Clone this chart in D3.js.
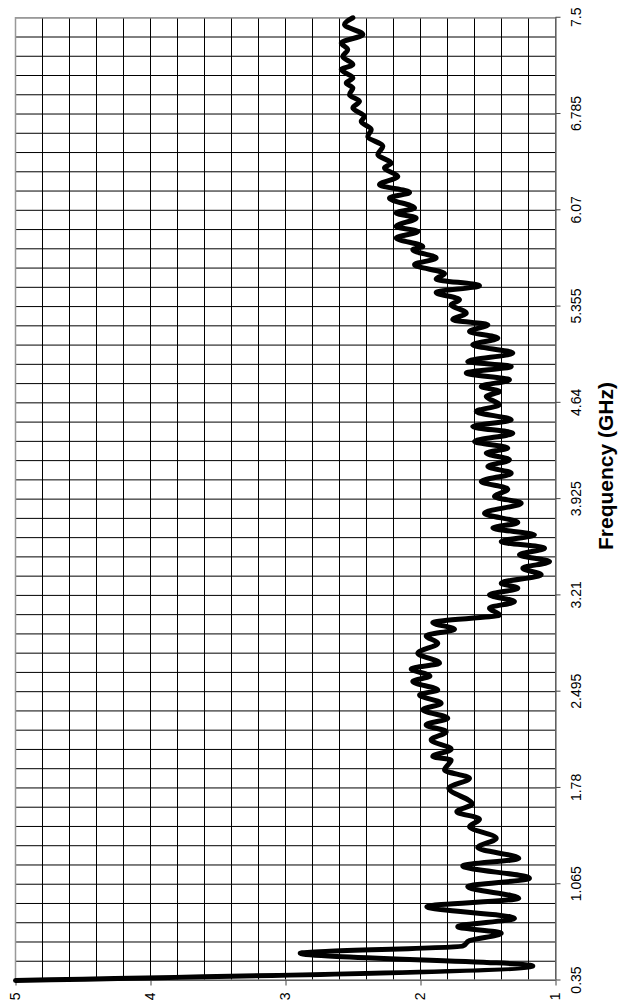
<!DOCTYPE html>
<html>
<head>
<meta charset="utf-8">
<script src="https://cdn.jsdelivr.net/npm/d3@7"></script>
<style>
body { margin: 0; background: #fff; }
svg { display: block; font-family: Arial, "Liberation Sans", sans-serif; }
.domain { stroke: #808080; stroke-width: 1.5; }
.tick line { stroke: #444; }
.tick text { fill: #000; font-size: 14px; }
</style>
</head>
<body>
<div id="chart"></div>
<script>
var freqTicks = [0.35, 1.065, 1.78, 2.495, 3.21, 3.925, 4.64, 5.355, 6.07, 6.785, 7.5];
var freqTickLabels = ["0.35", "1.065", "1.78", "2.495", "3.21", "3.925", "4.64", "5.355", "6.07", "6.785", "7.5"];
var vswrTicks = [1, 2, 3, 4, 5];

// frequency (GHz) and VSWR, turning points mostly
var freq = [0.35, 0.458, 0.552, 0.606, 0.646, 0.701, 0.75, 0.812, 0.898, 0.961,
    1.047, 1.109, 1.201, 1.258, 1.337, 1.406, 1.493, 1.548, 1.604, 1.661,
    1.778, 1.852, 1.914, 1.988, 2.013, 2.068, 2.137, 2.198, 2.248, 2.298,
    2.36, 2.409, 2.471, 2.508, 2.57, 2.611, 2.664, 2.707, 2.781, 2.855,
    2.909, 2.959, 3.008, 3.065, 3.115, 3.164, 3.214, 3.264, 3.301, 3.363,
    3.412, 3.461, 3.511, 3.561, 3.61, 3.66, 3.71, 3.751, 3.821, 3.895,
    3.944, 3.999, 4.056, 4.118, 4.167, 4.217, 4.267, 4.304, 4.353, 4.415,
    4.464, 4.514, 4.576, 4.626, 4.687, 4.725, 4.762, 4.811, 4.861, 4.91,
    4.947, 5.01, 5.071, 5.121, 5.17, 5.22, 5.257, 5.307, 5.369, 5.406,
    5.46, 5.51, 5.56, 5.599, 5.666, 5.716, 5.777, 5.802, 5.864, 5.913,
    5.95, 6.013, 6.05, 6.087, 6.161, 6.203, 6.26, 6.322, 6.384, 6.421,
    6.483, 6.545, 6.619, 6.669, 6.73, 6.767, 6.83, 6.879, 6.929, 6.978,
    7.016, 7.053, 7.115, 7.152, 7.213, 7.263, 7.313, 7.375, 7.449, 7.5];
var vswr = [5.0, 1.168, 2.891, 1.687, 1.637, 1.402, 1.724, 1.304, 1.953, 1.272,
    1.65, 1.193, 1.687, 1.272, 1.576, 1.439, 1.637, 1.563, 1.731, 1.617,
    1.79, 1.637, 1.822, 1.773, 1.909, 1.773, 1.921, 1.81, 1.958, 1.798,
    1.983, 1.847, 2.007, 1.872, 2.057, 1.93, 2.069, 1.859, 2.02, 1.872,
    1.958, 1.748, 1.909, 1.415, 1.489, 1.304, 1.489, 1.279, 1.402, 1.106,
    1.242, 1.044, 1.267, 1.081, 1.402, 1.156, 1.464, 1.279, 1.526, 1.254,
    1.452, 1.353, 1.55, 1.328, 1.501, 1.341, 1.513, 1.353, 1.6, 1.316,
    1.613, 1.328, 1.587, 1.415, 1.513, 1.415, 1.55, 1.341, 1.661, 1.328,
    1.65, 1.316, 1.613, 1.427, 1.637, 1.501, 1.761, 1.661, 1.773, 1.711,
    1.884, 1.563, 1.884, 1.822, 2.044, 1.884, 2.057, 1.983, 2.18, 2.02,
    2.18, 2.032, 2.18, 2.044, 2.23, 2.081, 2.304, 2.168, 2.267, 2.217,
    2.316, 2.279, 2.39, 2.365, 2.439, 2.415, 2.501, 2.452, 2.526, 2.501,
    2.55, 2.501, 2.587, 2.501, 2.576, 2.539, 2.587, 2.427, 2.563, 2.501];

var width = 621, height = 1007,
    plotLeft = 15.5, plotTop = 17.75, plotRight = 555.5, plotBottom = 980.5,
    plotH = plotBottom - plotTop,   // frequency run, up the page
    plotW = plotRight - plotLeft;   // vswr run, across the page

var svg = d3.select('#chart').append('svg')
    .attr('width', width)
    .attr('height', height);

// the chart is laid out the usual way, then given a quarter turn
var g = svg.append('g')
    .attr('transform', 'translate(' + plotLeft + ',' + plotBottom + ') rotate(-90)');

var x = d3.scaleLinear().domain([0.35, 7.5]).range([0, plotH]),
    y = d3.scaleLinear().domain([1, 5]).range([plotW, 0]);

var freqGrid = d3.range(0, 51).map(function (i) { return 0.35 + i * 0.143; }),
    vswrGrid = d3.range(0, 21).map(function (i) { return 1 + i * 0.2; });

g.selectAll('.fgrid')
    .data(freqGrid)
    .enter()
    .append('line')
    .attr('x1', function (d) { return x(d); })
    .attr('x2', function (d) { return x(d); })
    .attr('y1', 0)
    .attr('y2', plotW)
    .style('stroke', '#000')
    .style('stroke-width', 1);

g.selectAll('.vgrid')
    .data(vswrGrid)
    .enter()
    .append('line')
    .attr('x1', 0)
    .attr('x2', plotH)
    .attr('y1', function (d) { return y(d); })
    .attr('y2', function (d) { return y(d); })
    .style('stroke', '#000')
    .style('stroke-width', 1);

// grey frame on the two far sides
g.append('path')
    .attr('d', 'M0,' + y(5) + 'H' + x(7.5) + 'V' + y(1))
    .style('fill', 'none')
    .style('stroke', '#999')
    .style('stroke-width', 1.5);

var xAxis = d3.axisBottom(x)
    .tickValues(freqTicks)
    .tickFormat(function (d, i) { return freqTickLabels[i]; })
    .tickSize(5)
    .tickSizeOuter(0)
    .tickPadding(11);

var yAxis = d3.axisLeft(y)
    .tickValues(vswrTicks)
    .tickFormat(d3.format('d'))
    .tickSize(5)
    .tickSizeOuter(0)
    .tickPadding(7);

g.append('g')
    .attr('transform', 'translate(0,' + plotW + ')')
    .call(xAxis);

g.append('g')
    .call(yAxis);

g.selectAll('.tick text').attr('font-family', null).attr('font-size', null);

g.append('text')
    .attr('x', plotBottom - 466)
    .attr('y', plotW + 57)
    .attr('text-anchor', 'middle')
    .style('font-size', '21px')
    .style('font-weight', 'bold')
    .style('fill', '#000')
    .text('Frequency (GHz)');

var line = d3.line()
    .x(function (d, i) { return x(freq[i]); })
    .y(function (d, i) { return y(vswr[i]); })
    .curve(d3.curveMonotoneX);

g.append('path')
    .datum(vswr)
    .attr('d', line)
    .style('fill', 'none')
    .style('stroke', '#000')
    .style('stroke-width', 5)
    .style('stroke-linejoin', 'round')
    .style('stroke-linecap', 'round');
</script>
</body>
</html>
